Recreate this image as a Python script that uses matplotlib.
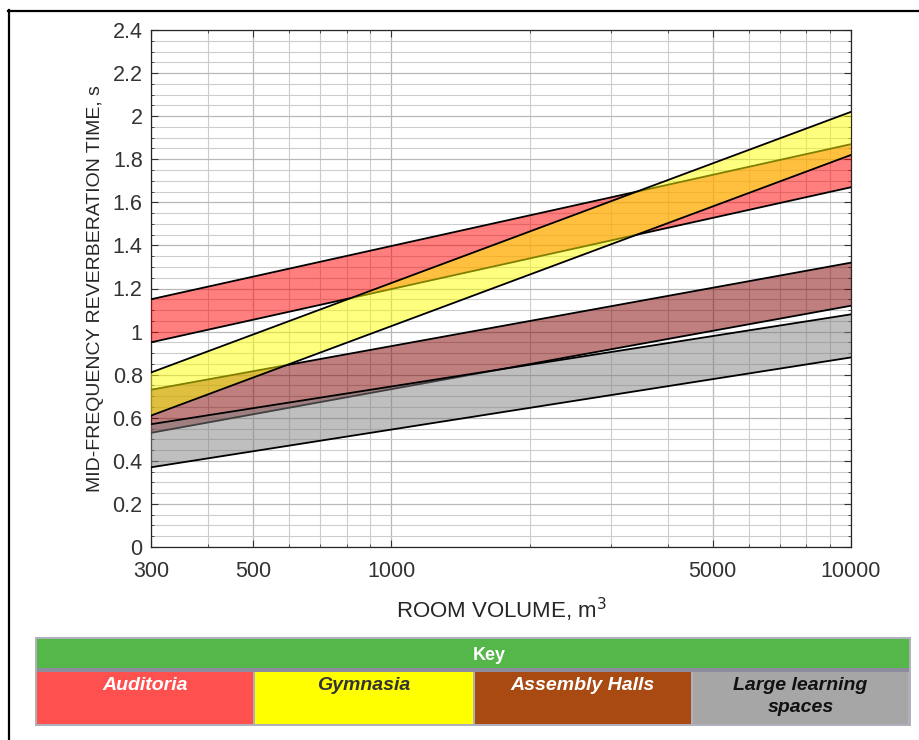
import matplotlib
matplotlib.use('Agg')
import matplotlib.pyplot as plt
import numpy as np
from matplotlib.patches import Rectangle
from matplotlib.lines import Line2D
from matplotlib.ticker import FixedLocator, MultipleLocator

plt.rcParams['font.family'] = ['Liberation Sans', 'DejaVu Sans']

# Room volume end points (m^3) and band limits (s)
volume = [300, 10000]
auditoria_low = [0.95, 1.67]
auditoria_high = [1.15, 1.87]
assembly_low = [0.53, 1.12]
assembly_high = [0.73, 1.32]
gymnasia_low = [0.61, 1.82]
gymnasia_high = [0.81, 2.02]
learning_low = [0.37, 0.88]
learning_high = [0.57, 1.08]

x_ticks = [300, 500, 1000, 5000, 10000]
y_ticks = [0, 0.2, 0.4, 0.6, 0.8, 1, 1.2, 1.4, 1.6, 1.8, 2, 2.2, 2.4]

key_names = ['Auditoria', 'Gymnasia', 'Assembly Halls', 'Large learning\nspaces']
key_colors = ['#ff5050', '#ffff00', '#a84a12', '#a6a6a6']
key_text_colors = ['white', '#333333', 'white', '#111111']

W, H = 920, 740
fig = plt.figure(figsize=(W / 100, H / 100), dpi=100)
ax = fig.add_axes([151 / W, 1 - 547 / H, 700 / W, 517 / H])

# bands, drawn in this order so the overlaps look like the original
bands = [
    (auditoria_low, auditoria_high, (1, 0, 0)),
    (assembly_low, assembly_high, (0.5, 0, 0)),
    (gymnasia_low, gymnasia_high, (1, 1, 0)),
    (learning_low, learning_high, (0.5, 0.5, 0.5)),
]
z = 3
for low, high, col in bands:
    ax.fill_between(volume, low, high, facecolor=col, alpha=0.5, linewidth=0, zorder=z)
    ax.plot(volume, low, color='black', lw=1.3, zorder=z + 0.5)
    ax.plot(volume, high, color='black', lw=1.3, zorder=z + 0.5)
    z += 1

ax.set_xscale('log')
ax.set_xlim(300, 10000)
ax.set_ylim(0, 2.4)
ax.xaxis.set_major_locator(FixedLocator(x_ticks))
ax.set_xticklabels([str(v) for v in x_ticks])
minor_x = [v for v in list(range(400, 1000, 100)) + list(range(2000, 10000, 1000)) if v not in x_ticks]
ax.xaxis.set_minor_locator(FixedLocator(minor_x))
ax.set_yticks(y_ticks)
ax.set_yticklabels([('%g' % v) for v in y_ticks])
ax.yaxis.set_minor_locator(MultipleLocator(0.05))

ax.grid(which='major', color='#b8b8b8', lw=0.9, zorder=0)
ax.grid(which='minor', color='#cccccc', lw=0.8, zorder=0)
ax.set_axisbelow(True)
ax.tick_params(which='both', direction='in', top=True, right=True, colors='#333333',
               labelsize=15.5)
ax.tick_params(axis='x', pad=10)
ax.tick_params(axis='y', pad=6)
ax.tick_params(which='major', length=5)
ax.tick_params(which='minor', length=2.5)
for s in ax.spines.values():
    s.set_color('#262626')
    s.set_linewidth(0.9)

ax.set_xlabel('ROOM VOLUME, m$^3$', fontsize=16, color='#262626', labelpad=10)
ax.set_ylabel('MID-FREQUENCY REVERBERATION TIME, s', fontsize=14, color='#262626', labelpad=6)

# outer frame (only left and top edges visible in the crop)
fig.add_artist(Line2D([8.5 / W, 8.5 / W], [0, 1 - 10 / H], color='black', lw=1.6))
fig.add_artist(Line2D([8 / W, 1], [1 - 10.5 / H, 1 - 10.5 / H], color='black', lw=1.6))

# key block
def px_rect(x0, y0, x1, y1, fc, ec='none', lw=0):
    fig.add_artist(Rectangle((x0 / W, 1 - y1 / H), (x1 - x0) / W, (y1 - y0) / H,
                             facecolor=fc, edgecolor=ec, lw=lw, transform=fig.transFigure))

px_rect(35, 637, 911, 726, '#b0b0bc')
px_rect(37, 639, 909, 668, '#55b64a')
px_rect(37, 668, 909, 672, '#8c8c9c')
fig.text(489 / W, 1 - 655 / H, 'Key', color='white', fontsize=13, fontweight='bold',
         ha='center', va='center')

cell_edges = [37, 254, 474, 692, 909]
for i, name in enumerate(key_names):
    x0, x1 = cell_edges[i], cell_edges[i + 1]
    px_rect(x0 + (1 if i else 0), 672, x1 - 1, 724, key_colors[i])
    fig.text((x0 + x1) / 2 / W, 1 - 677 / H, name, color=key_text_colors[i], fontsize=14,
             fontweight='bold', fontstyle='italic', ha='center', va='top', linespacing=1.35)

fig.savefig('out.png', dpi=100)
